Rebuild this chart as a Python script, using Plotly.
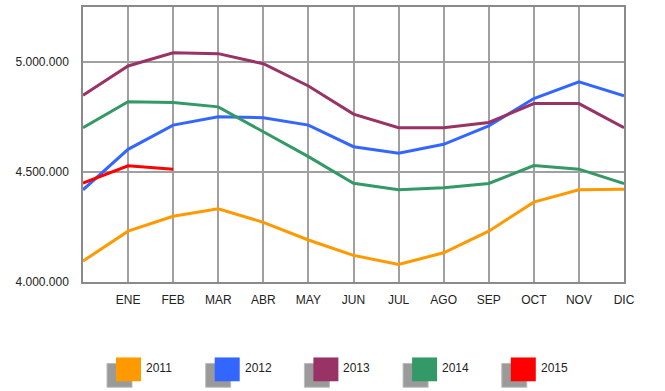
import plotly.graph_objects as go

months = ["", "ENE", "FEB", "MAR", "ABR", "MAY", "JUN", "JUL", "AGO", "SEP", "OCT", "NOV", "DIC"]
years = ["2011", "2012", "2013", "2014", "2015"]
colors = ["#FF9900", "#3366FF", "#993366", "#339966", "#FF0000"]

s2011 = [4095000, 4231000, 4299000, 4333000, 4271000, 4191000, 4121000, 4080000, 4133000, 4231000, 4363000, 4419000, 4422000]
s2012 = [4419000, 4603000, 4713000, 4751000, 4747000, 4713000, 4615000, 4585000, 4626000, 4710000, 4834000, 4910000, 4846000]
s2013 = [4849000, 4982000, 5042000, 5038000, 4992000, 4891000, 4763000, 4701000, 4701000, 4725000, 4811000, 4811000, 4701000]
s2014 = [4701000, 4819000, 4816000, 4796000, 4683000, 4570000, 4449000, 4419000, 4428000, 4448000, 4529000, 4513000, 4447000]
s2015 = [4449000, 4528000, 4513000]

series = [s2011, s2012, s2013, s2014, s2015]
ytick_vals = [4000000, 4500000, 5000000]

fig = go.Figure()
for name, vals, col in zip(years, series, colors):
    fig.add_trace(go.Scatter(
        x=list(range(len(vals))), y=vals, mode="lines", name=name,
        line=dict(color=col, width=3), showlegend=False,
    ))

# custom legend (swatch with grey shadow)
W, H = 665, 391
PL, PR, PT, PB = 83, 624, 5, 282
shapes = []
annotations = []
for i, (name, col) in enumerate(zip(years, colors)):
    x0 = 116 + i * 98.7
    y0 = 358
    shapes.append(dict(type="rect", xref="paper", yref="paper",
                       x0=(x0 - 9 - PL) / (PR - PL), x1=(x0 - 9 + 25 - PL) / (PR - PL),
                       y0=(PB - (y0 + 6 + 24)) / (PB - PT), y1=(PB - (y0 + 6)) / (PB - PT),
                       fillcolor="#9a9a9a", line=dict(color="#bbbbbb", width=1)))
    shapes.append(dict(type="rect", xref="paper", yref="paper",
                       x0=(x0 - PL) / (PR - PL), x1=(x0 + 25 - PL) / (PR - PL),
                       y0=(PB - (y0 + 24)) / (PB - PT), y1=(PB - y0) / (PB - PT),
                       fillcolor=col, line=dict(color=col, width=0)))
    annotations.append(dict(xref="paper", yref="paper",
                            x=(x0 + 28 - PL) / (PR - PL), y=(PB - 369) / (PB - PT),
                            text=name, showarrow=False, xanchor="left", yanchor="middle",
                            font=dict(family="Liberation Sans, Arial", size=12, color="#222")))

fig.update_layout(
    width=W, height=H,
    margin=dict(l=PL, r=W - PR, t=PT, b=H - PB),
    paper_bgcolor="white", plot_bgcolor="white",
    separators=",.",
    font=dict(family="Liberation Sans, Arial", size=12, color="#222"),
    shapes=shapes, annotations=annotations,
    xaxis=dict(range=[0, 12], tickmode="array", tickvals=list(range(len(months))), ticktext=months,
               showgrid=True, gridcolor="#a0a0a0", gridwidth=1.5, zeroline=False,
               showline=True, linecolor="#8a8a8a", linewidth=1.5, mirror=True,
               ticks="outside", ticklen=6, tickcolor="rgba(0,0,0,0)"),
    yaxis=dict(range=[4000000, 5250000], tickmode="array", tickvals=ytick_vals, tickformat=",d",
               showgrid=True, gridcolor="#a0a0a0", gridwidth=1.5, zeroline=False,
               showline=True, linecolor="#8a8a8a", linewidth=1.5, mirror=True,
               ticks="outside", ticklen=10, tickcolor="rgba(0,0,0,0)"),
)

fig.write_html("out.html", config={"displayModeBar": False},
               post_script="document.body.style.margin='0';document.body.style.padding='0';")
